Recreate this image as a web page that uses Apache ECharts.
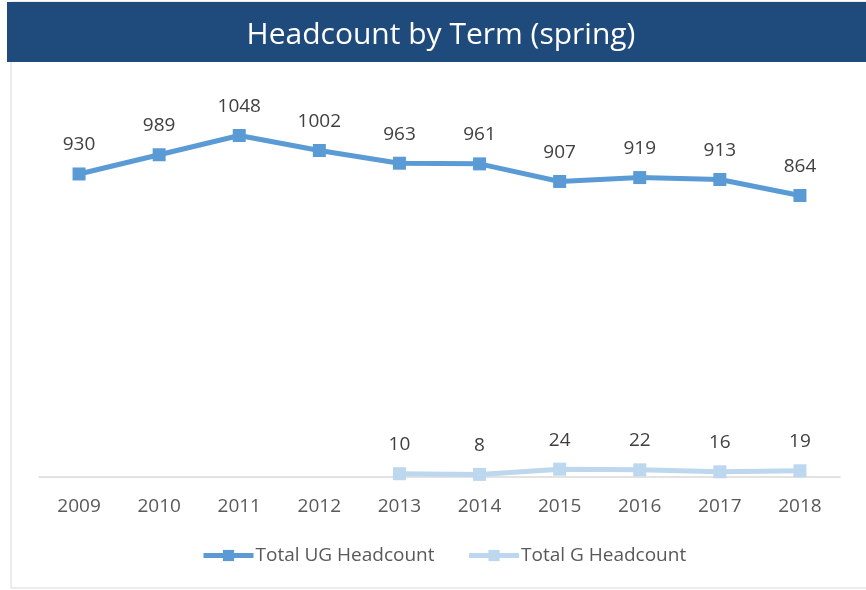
<!DOCTYPE html>
<html><head><meta charset="utf-8">
<script src="https://cdn.jsdelivr.net/npm/echarts@6/dist/echarts.min.js"></script>
<style>html,body{margin:0;padding:0;background:#fff}#c{width:866px;height:590px}</style>
</head><body><div id="c"></div>
<script>
var years = ['2009','2010','2011','2012','2013','2014','2015','2016','2017','2018'];
var ugHeadcount = [930, 989, 1048, 1002, 963, 961, 907, 919, 913, 864];
var gHeadcount = [null, null, null, null, 10, 8, 24, 22, 16, 19];
var seriesNames = ['Total UG Headcount', 'Total G Headcount'];
var chartTitle = 'Headcount by Term (spring)';

var chart = echarts.init(document.getElementById('c'));
var lbl = {show:true, position:'top', distance:13, color:'#404040', fontSize:19, fontFamily:'Open Sans, sans-serif'};
chart.setOption({
  animation:false,
  graphic:[
    {type:'rect', shape:{x:11, y:2, width:860, height:586}, style:{fill:'none', stroke:'#d9d9d9', lineWidth:1}, z:-1},
    {type:'rect', shape:{x:7, y:2, width:859, height:60}, style:{fill:'#1f4a7c'}},
    {type:'text', x:441, y:35, style:{text:chartTitle, fill:'#fff', font:'30px "Open Sans", sans-serif', textAlign:'center', textVerticalAlign:'middle'}}
  ],
  grid:{left:39, right:26, top:86, bottom:113},
  xAxis:{type:'category', data:years, boundaryGap:true,
    axisLine:{lineStyle:{color:'#d9d9d9', width:1.5}}, axisTick:{show:false},
    axisLabel:{color:'#595959', fontSize:19, fontFamily:'Open Sans, sans-serif', margin:20}},
  yAxis:{type:'value', min:0, max:1200, show:false, splitLine:{show:false}},
  legend:{bottom:20, left:196, itemGap:32, itemWidth:50, itemHeight:14,
    lineStyle:{width:5},
    textStyle:{color:'#595959', fontSize:19, fontFamily:'Open Sans, sans-serif', padding:[0,0,0,-3]},
    data:seriesNames},
  series:[
    {name:seriesNames[0], type:'line', data:ugHeadcount, symbol:'rect', symbolSize:13,
     lineStyle:{color:'#5b9bd5', width:5}, itemStyle:{color:'#5b9bd5'}, label:lbl},
    {name:seriesNames[1], type:'line', data:gHeadcount, symbol:'rect', symbolSize:13,
     lineStyle:{color:'#bdd7ee', width:5}, itemStyle:{color:'#bdd7ee'}, label:lbl}
  ]
});
</script></body></html>
